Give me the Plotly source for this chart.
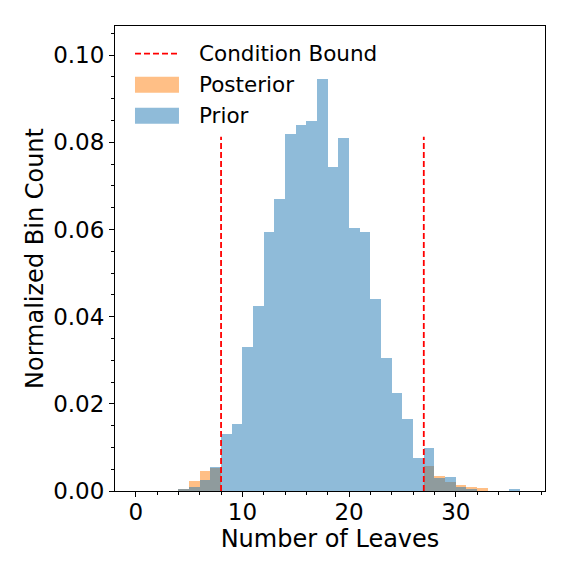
"""Prior vs posterior histogram of the number of leaves, with the condition bounds."""
import plotly.graph_objects as go

# bin left edges (width 1)
bin_edges = list(range(4, 36))
prior = [0.0005, 0.0009, 0.0025, 0.0055, 0.0131, 0.0154, 0.0330, 0.0425,
         0.0594, 0.0670, 0.0819, 0.0839, 0.0849, 0.0945, 0.0743, 0.0810,
         0.0603, 0.0594, 0.0440, 0.0305, 0.0225, 0.0166, 0.0076, 0.0099,
         0.0030, 0.0031, 0.0009, 0.0005, 0.0, 0.0, 0.0, 0.0005]
posterior = [0.0005, 0.0023, 0.0046, 0.0052, 0.0, 0.0, 0.0, 0.0,
             0.0, 0.0, 0.0, 0.0, 0.0, 0.0, 0.0, 0.0,
             0.0, 0.0, 0.0, 0.0, 0.0, 0.0, 0.0, 0.0058,
             0.0035, 0.0021, 0.0014, 0.0009, 0.0006, 0.0, 0.0, 0.0]
bounds = [8, 27]
bound_top = 0.0813

BLUE = "rgba(31,119,180,0.5)"
ORANGE = "rgba(255,127,14,0.5)"
FONT = "DejaVu Sans"

fig = go.Figure()
fig.add_trace(go.Bar(x=bin_edges, y=posterior, width=1, offset=0,
                     marker=dict(color=ORANGE, line=dict(width=0)),
                     name="Posterior", showlegend=False))
fig.add_trace(go.Bar(x=bin_edges, y=prior, width=1, offset=0,
                     marker=dict(color=BLUE, line=dict(width=0)),
                     name="Prior", showlegend=False))

bx, by = [], []
for b in bounds:
    bx += [b, b, None]
    by += [0, bound_top, None]
fig.add_trace(go.Scatter(x=bx, y=by, mode="lines",
                         line=dict(color="red", width=1.8, dash="6px,3px"),
                         name="Condition Bound", showlegend=False))

# hand-made legend (matplotlib style wide patches)
shapes = [
    dict(type="line", xref="paper", yref="paper", x0=0.0465, x1=0.1488,
         y0=0.9404, y1=0.9404, line=dict(color="red", width=1.8, dash="6px,3px")),
    dict(type="rect", xref="paper", yref="paper", x0=0.0465, x1=0.1488,
         y0=0.8566, y1=0.891, fillcolor=ORANGE, line=dict(width=0)),
    dict(type="rect", xref="paper", yref="paper", x0=0.0465, x1=0.1488,
         y0=0.7899, y1=0.8243, fillcolor=BLUE, line=dict(width=0)),
]
annotations = [
    dict(text=t, xref="paper", yref="paper", x=0.19, y=yy, xanchor="left",
         yanchor="middle", showarrow=False, font=dict(size=21.5, color="black"))
    for t, yy in [("Condition Bound", 0.9404), ("Posterior", 0.8738), ("Prior", 0.8071)]
]

axis_common = dict(showline=True, linecolor="black", linewidth=1, mirror=True,
                   ticks="outside", ticklen=5, tickcolor="black", showgrid=False,
                   zeroline=False, tickfont=dict(size=23, color="black"))
# page body adds an 8px offset, so margins are shifted to compensate
fig.update_layout(
    width=576, height=576, plot_bgcolor="white", paper_bgcolor="white",
    barmode="overlay", bargap=0,
    font=dict(family=FONT, color="black"),
    margin=dict(l=107, r=39, t=18, b=93),
    shapes=shapes, annotations=annotations,
    xaxis=dict(range=[-1.94, 38.36], dtick=10, ticklabelstandoff=-5,
               minor=dict(dtick=2, ticklen=3, ticks="outside", tickcolor="black"),
               title=dict(text="Number of Leaves", font=dict(size=24), standoff=2),
               **axis_common),
    yaxis=dict(range=[0, 0.1067], dtick=0.02, tickformat=".2f",
               minor=dict(dtick=0.005, ticklen=3, ticks="outside", tickcolor="black"),
               title=dict(text="Normalized Bin Count", font=dict(size=24), standoff=2),
               **axis_common),
)
fig.write_html("out.html")
